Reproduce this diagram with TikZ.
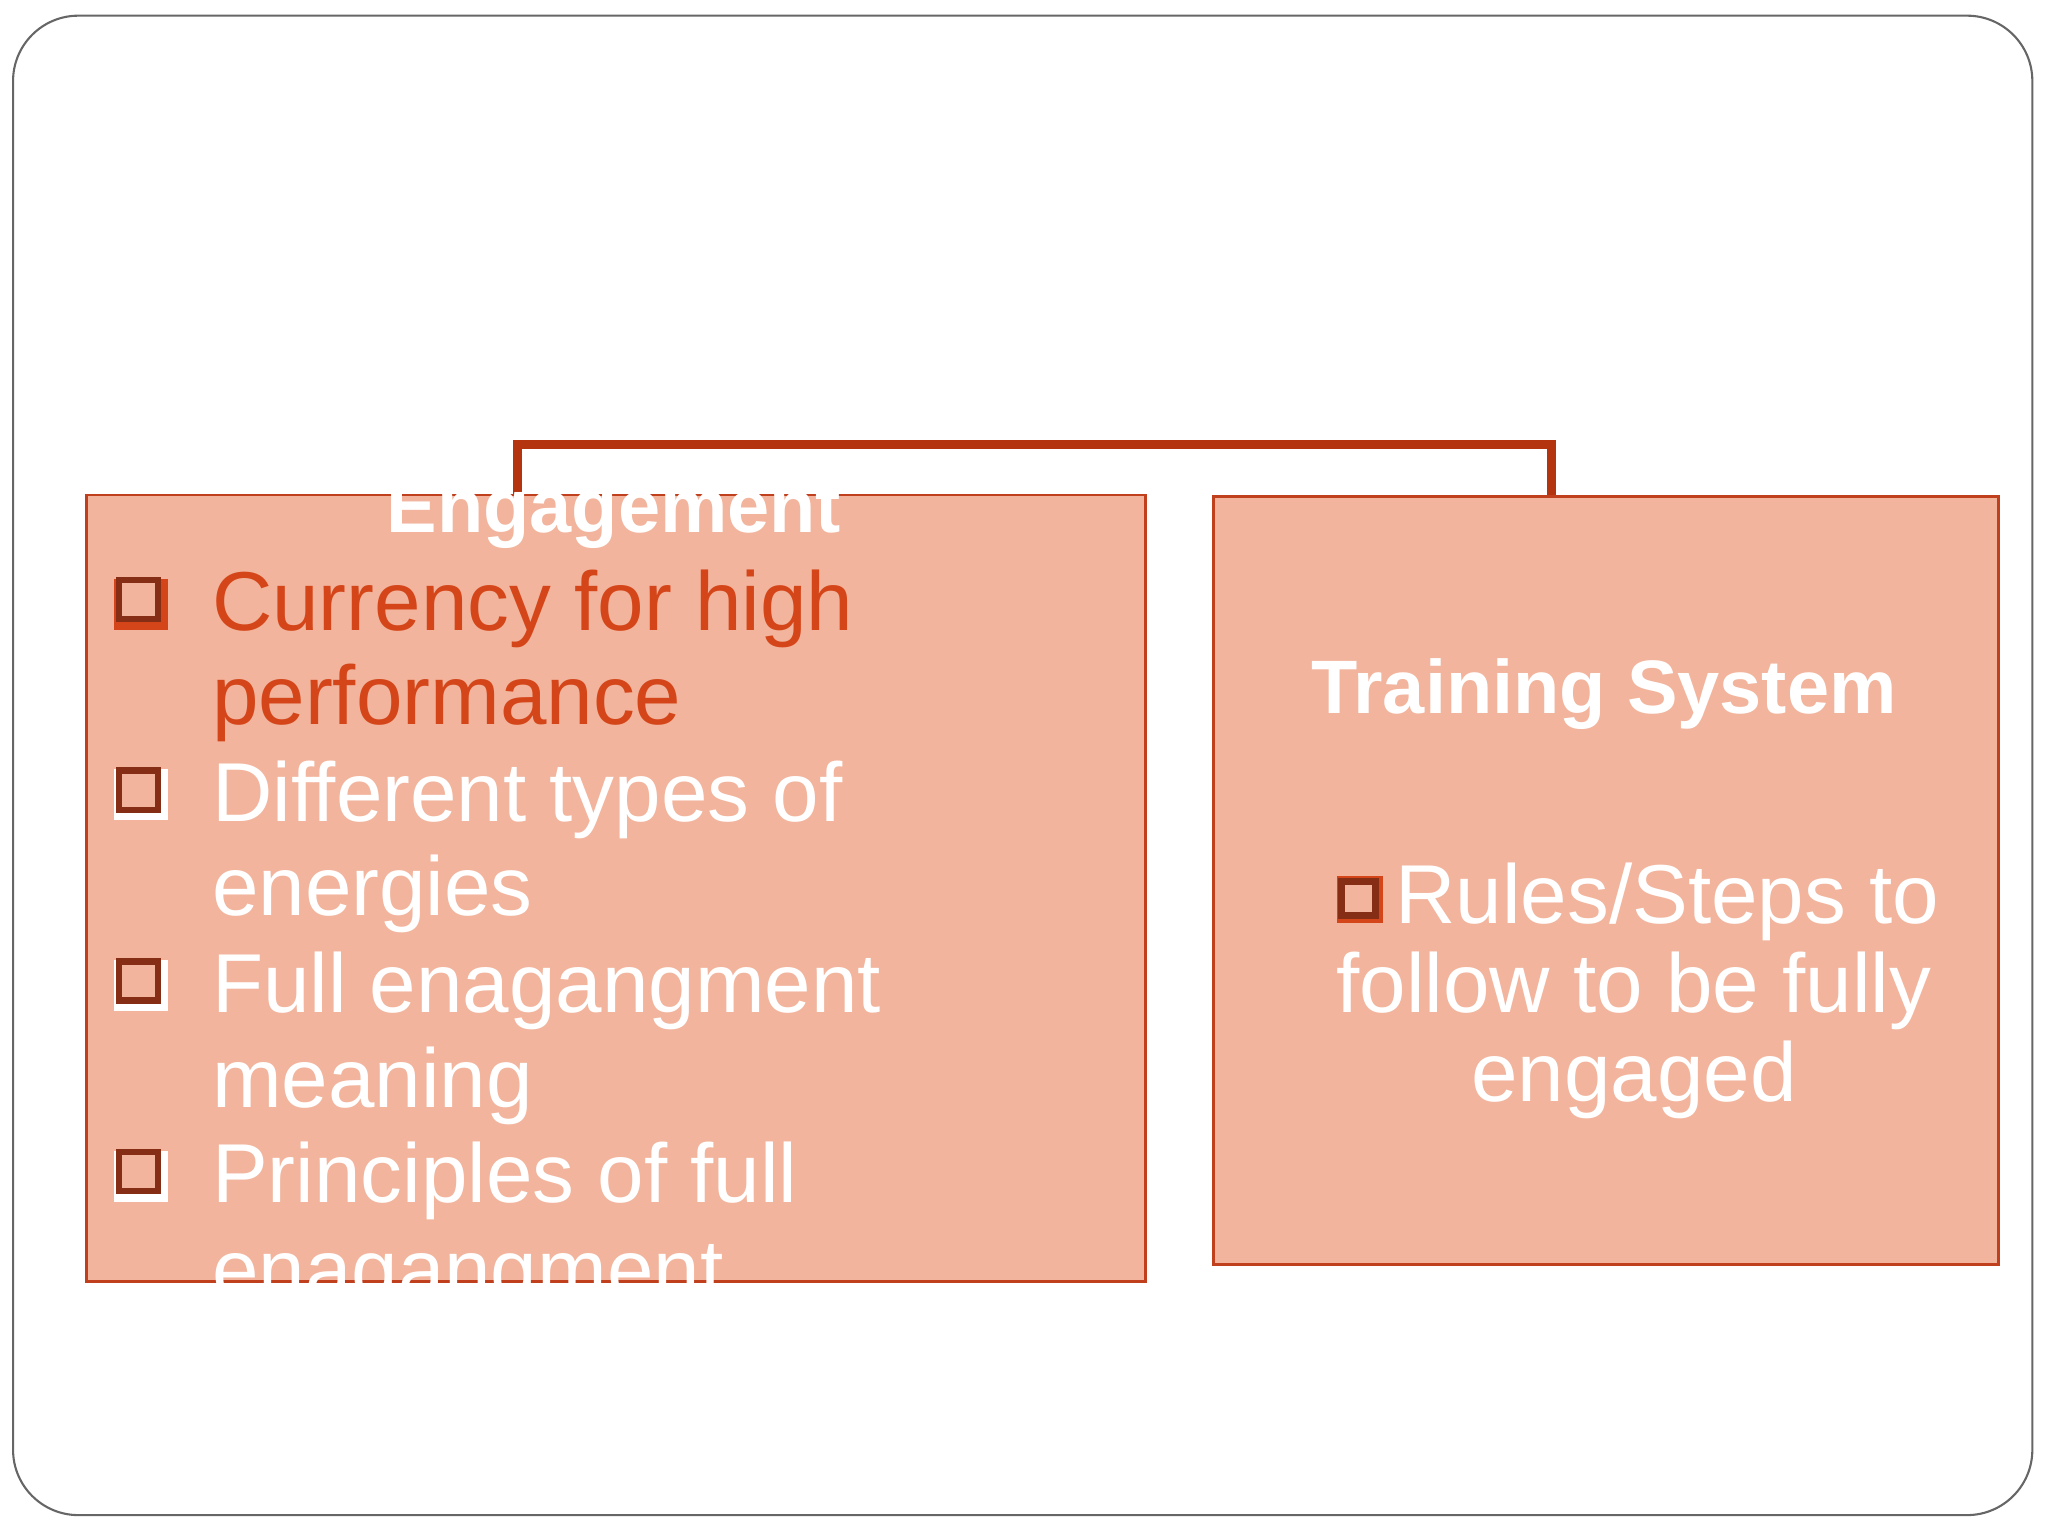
\documentclass[tikz,border=0pt]{standalone}
\usepackage{fontspec}
\setmainfont{Liberation Sans}
\definecolor{boxfill}{HTML}{F2B49C}
\definecolor{boxline}{HTML}{C0401E}
\definecolor{conn}{HTML}{B3340E}
\definecolor{orangetxt}{HTML}{D4461A}
\tikzset{
  bx/.style={draw=boxline, line width=1pt, fill=boxfill},
  itm/.style={anchor=base west, inner sep=0pt, font=\fontsize{32}{38}\selectfont},
  hdr/.style={inner sep=0pt, text=white, font=\bfseries\fontsize{29}{34}\selectfont},
  bul/.style={draw=#1, line width=2.5pt, fill=boxfill, minimum size=15pt, inner sep=0pt},
}
\begin{document}
\begin{tikzpicture}[x=0.5pt,y=-0.5pt]
\useasboundingbox (0,0) rectangle (1568,1176);
\draw[gray!80!black, line width=0.8pt, rounded corners=25pt] (10,12) rectangle (1556,1160);
\node[bx, minimum width=405.5pt, minimum height=301pt, anchor=north west] (L) at (65,378) {};
\node[bx, minimum width=300.5pt, minimum height=294pt, anchor=north west] (R) at (928,379) {};
\draw[conn, line width=3.5pt] (L.north west) ++(331,0) coordinate (c1) -- ++(0,-38) -| (R.north west -| 1188,379);
\node[hdr, anchor=base] (eng) at (470,408) {Engagement};
% bullets
\foreach \y/\c [count=\i] in {460/orangetxt,606/white,752/white,898/white}{
  \fill[\c] (87,\y-17) rectangle (129,\y+22);
  \node[bul=boxline!70!black] (b\i) at (106,\y-1) {};
}
\node[itm, text=orangetxt] (t1) at (162,483) {Currency for high};
\node[itm, text=orangetxt] (t2) at (162,555) {performance};
\node[itm, text=white] (t3) at (162,629) {Different types of};
\node[itm, text=white] (t4) at (162,701) {energies};
\node[itm, text=white] (t5) at (162,775) {Full enagangment};
\node[itm, text=white] (t6) at (162,848) {meaning};
\node[itm, text=white] (t7) at (162,921) {Principles of full};
\node[itm, text=white] (t8) at (162,994) {enagangment};
\node[hdr, anchor=base] (ts) at (1228,546) {Training System};
\fill[orangetxt] (1024,671) rectangle (1059,707);
\node[bul=boxline!70!black, minimum size=13pt] (rb) at (1040,688) {};
\node[itm, text=white] (r1) at (1068,707) {Rules/Steps to};
\node[itm, anchor=base, text=white] (r2) at (1251,775) {follow to be fully};
\node[itm, anchor=base, text=white] (r3) at (1251,843) {engaged};
\end{tikzpicture}
\end{document}
